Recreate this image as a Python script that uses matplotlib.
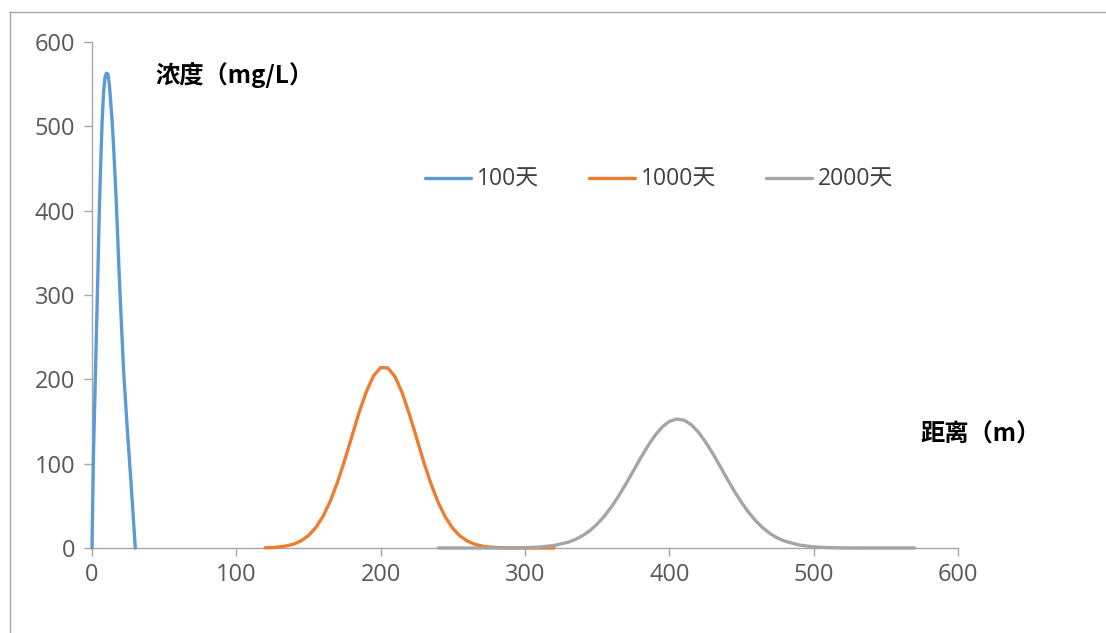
import matplotlib
matplotlib.use("Agg")
import matplotlib.pyplot as plt
from matplotlib.lines import Line2D

plt.rcParams['font.family'] = ['Open Sans', 'Noto Sans CJK SC', 'DejaVu Sans']

# Concentration (mg/L) versus distance (m) at three times
x_100 = list(range(0, 31))
c_100 = [0, 110, 180, 250, 320, 395, 455, 505, 540, 558, 563, 562, 550, 528,
         505, 475, 440, 403, 360, 318, 280, 243, 207, 180, 153, 127, 103, 78,
         52, 26, 0]

x_1000 = list(range(120, 325, 5))
c_1000 = [0.3, 0.6, 1.3, 2.6, 4.8, 8.6, 14.8, 24.1, 37.4, 55.1, 77.5, 103.7,
          132, 160.4, 185, 204, 214, 213.5, 203, 183.6, 158, 129.9, 101, 75.5,
          53.5, 36.1, 23.2, 14.2, 8.3, 4.6, 2.4, 1.2, 0.6, 0.3, 0.1, 0, 0, 0,
          0, 0, 0]

x_2000 = [240, 250, 260, 270, 280, 290, 300, 310, 320, 330, 335, 340, 345,
          350, 355, 360, 365, 370, 375, 380, 385, 390, 395, 400, 405, 410,
          415, 420, 425, 430, 435, 440, 445, 450, 455, 460, 465, 470, 475,
          480, 490, 500, 510, 520, 530, 540, 550, 560, 570]
c_2000 = [0, 0, 0, 0, 0.03, 0.11, 0.36, 1.1, 2.9, 6.9, 10.2, 14.7, 20.7, 28.4,
          37.8, 49.1, 62.0, 76.2, 91.3, 106.4, 120.7, 133.3, 143.4, 150.1,
          152.9, 151.7, 146.5, 137.7, 126.0, 112.3, 97.4, 82.2, 67.5, 54.0,
          42.1, 31.9, 23.6, 16.9, 11.8, 8.1, 3.5, 1.3, 0.46, 0.14, 0.04, 0,
          0, 0, 0]

series_labels = ['100天', '1000天', '2000天']
series_colors = ['#5B9BD5', '#ED7D31', '#A5A5A5']
x_ticks = [0, 100, 200, 300, 400, 500, 600]
y_ticks = [0, 100, 200, 300, 400, 500, 600]

fig = plt.figure(figsize=(11.06, 6.33), dpi=100)
fig.patch.set_facecolor('white')
ax = fig.add_axes([92 / 1106, 1 - 548 / 633, (958 - 92) / 1106, (548 - 42) / 633])

for xs, ys, lab, col in zip([x_100, x_1000, x_2000], [c_100, c_1000, c_2000],
                            series_labels, series_colors):
    ax.plot(xs, ys, color=col, lw=2.4, label=lab, solid_capstyle='round',
            solid_joinstyle='round', clip_on=False, zorder=3)

ax.set_xlim(0, 600)
ax.set_ylim(0, 600)
ax.set_xticks(x_ticks)
ax.set_yticks(y_ticks)
for s in ['top', 'right']:
    ax.spines[s].set_visible(False)
for s in ['left', 'bottom']:
    ax.spines[s].set_color('#A6A6A6')
    ax.spines[s].set_linewidth(1.0)
ax.tick_params(axis='both', direction='out', length=6, width=1.0,
               color='#A6A6A6', labelcolor='#595959', labelsize=17)
ax.tick_params(axis='y', pad=6)
ax.tick_params(axis='x', pad=5)

leg = ax.legend(loc='center', bbox_to_anchor=(659 / 1106, 1 - 180 / 633),
                bbox_transform=fig.transFigure, ncol=3, frameon=False,
                fontsize=16.5, handlelength=2.0, handletextpad=0.25,
                columnspacing=2.2)
for t in leg.get_texts():
    t.set_color('#404040')

title_font = ['Noto Sans CJK SC', 'DejaVu Sans']
fig.text(155 / 1106, 1 - 75 / 633, '浓度（mg/L）', fontsize=17.5,
         fontweight='bold', color='black', ha='left', va='center',
         family=title_font)
fig.text(920 / 1106, 1 - 435 / 633, '距离（m）', fontsize=17.5,
         fontweight='bold', color='black', ha='left', va='center',
         family=title_font)

# Chart area border (top and left edges)
fig.add_artist(Line2D([10 / 1106, 1], [1 - 12 / 633, 1 - 12 / 633],
                      transform=fig.transFigure, color='#A6A6A6', lw=1.0))
fig.add_artist(Line2D([10 / 1106, 10 / 1106], [0, 1 - 12 / 633],
                      transform=fig.transFigure, color='#A6A6A6', lw=1.0))

fig.savefig('out.png', dpi=100, facecolor='white')
